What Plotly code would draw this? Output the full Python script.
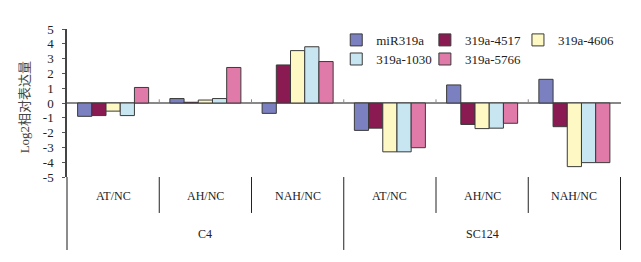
import plotly.graph_objects as go

# 数据
cultivars = ['C4', 'C4', 'C4', 'SC124', 'SC124', 'SC124']
treatments = ['AT/NC', 'AH/NC', 'NAH/NC', 'AT/NC', 'AH/NC', 'NAH/NC']
categories = [c + '|' + t for c, t in zip(cultivars, treatments)]

series_names = ['miR319a', '319a-4517', '319a-4606', '319a-1030', '319a-5766']
mir319a = [-0.9, 0.3, -0.7, -1.85, 1.22, 1.6]
mir_4517 = [-0.85, 0.05, 2.57, -1.7, -1.45, -1.6]
mir_4606 = [-0.55, 0.2, 3.54, -3.3, -1.73, -4.3]
mir_1030 = [-0.85, 0.3, 3.8, -3.3, -1.7, -4.03]
mir_5766 = [1.05, 2.4, 2.8, -3.02, -1.37, -4.03]

y_ticks = [5, 4, 3, 2, 1, 0, -1, -2, -3, -4, -5]
y_ticktext = ['5', '4', '3', '2', '1', '0', '-1', '-2', '-3', '-4', '-5']

colors = ['#7b80c0', '#8a1a52', '#fdf8c4', '#c8e5f2', '#e07ba9']
series_values = [mir319a, mir_4517, mir_4606, mir_1030, mir_5766]

SERIF = 'Liberation Serif, Times New Roman, Noto Sans CJK SC, serif'

# 图例位置（两行三列）
legend_ids = ['legend', 'legend2', 'legend3', 'legend4', 'legend5']
legend_pos = [(0.486, 0.926), (0.646, 0.926), (0.814, 0.926),
              (0.486, 0.797), (0.646, 0.797)]

fig = go.Figure()
for name, vals, col, lid in zip(series_names, series_values, colors, legend_ids):
    fig.add_trace(go.Bar(
        x=categories, y=vals, name=name, legend=lid,
        marker=dict(color=col, line=dict(color='#3a3a3a', width=1)),
    ))

# 分类标签
n = len(categories)
for i, t in enumerate(treatments):
    fig.add_annotation(x=categories[i], y=0, xref='x', yref='paper', yshift=-19,
                       text=t, showarrow=False, yanchor='middle',
                       font=dict(family=SERIF, size=12, color='#222'))

# 外层标签（品种）
outer = []
for i, c in enumerate(cultivars):
    if not outer or outer[-1][0] != c:
        outer.append([c, i, i])
    else:
        outer[-1][2] = i
for c, s, e in outer:
    fig.add_annotation(x=(s + e) / 2, y=0, xref='x', yref='paper', yshift=-57,
                       text=c, showarrow=False, yanchor='middle',
                       font=dict(family=SERIF, size=12, color='#222'))

# 分隔线
line_style = dict(color='#222', width=1)
for i in range(1, n + 1):
    full = (i == n) or cultivars[i] != cultivars[i - 1]
    fig.add_shape(type='line', xref='x', yref='paper',
                  x0=i - 0.5, x1=i - 0.5, y0=0, y1=-0.493 if full else -0.243,
                  line=line_style)
# 纵轴向下延伸
fig.add_shape(type='line', xref='paper', yref='paper', x0=0, x1=0, y0=0, y1=-0.493,
              line=dict(color='#666', width=1.5))
# 零线上的小刻度
for i in range(1, n):
    fig.add_shape(type='line', xref='x', yref='y', x0=i - 0.5, x1=i - 0.5,
                  y0=0, y1=0.25, line=dict(color='#888', width=1))

# 纵轴标题
fig.add_annotation(x=-0.076, y=0.47, xref='paper', yref='paper', text='Log2相对表达量',
                   textangle=-90, showarrow=False, xanchor='center', yanchor='middle',
                   font=dict(family=SERIF, size=13, color='#444'))

# 页面 body 默认有 8px 边距，这里把画布缩小 8px 以便对齐
fig.update_layout(
    width=633, height=254,
    margin=dict(l=59, r=20, t=21, b=85),
    paper_bgcolor='white', plot_bgcolor='white',
    barmode='group', bargap=0.23, bargroupgap=0,
    font=dict(family=SERIF, size=12, color='#222'),
    showlegend=True,
)
for lid, (lx, ly) in zip(legend_ids, legend_pos):
    fig.update_layout({lid: dict(x=lx, y=ly, xanchor='left', yanchor='middle',
                                 orientation='h', bgcolor='rgba(0,0,0,0)',
                                 font=dict(family=SERIF, size=13, color='#222'))})

fig.update_xaxes(showticklabels=False, showline=False, showgrid=False,
                 zeroline=False, ticks='', automargin=False)
fig.update_yaxes(range=[-5, 5], tickvals=y_ticks, ticktext=y_ticktext,
                 showgrid=False, zeroline=True, zerolinecolor='#888', zerolinewidth=1.5,
                 showline=True, linecolor='#444', linewidth=1.5,
                 ticks='outside', ticklen=3, tickcolor='#555', ticklabelstandoff=6,
                 tickfont=dict(family=SERIF, size=13, color='#222'),
                 automargin=False)

fig.write_html('out.html')
